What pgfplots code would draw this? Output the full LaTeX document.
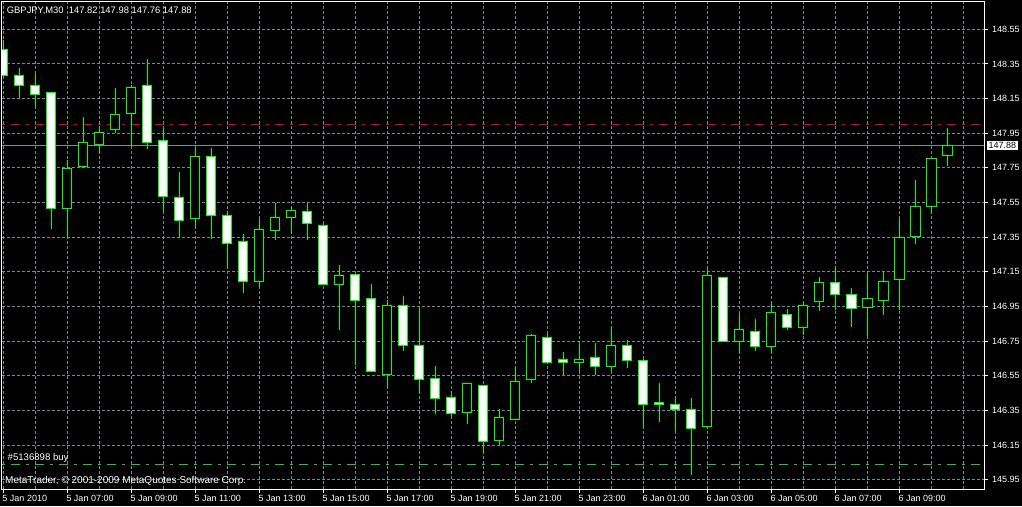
\documentclass[border=0pt]{standalone}
\usepackage{pgfplots}
\pgfplotsset{compat=1.18}
\usepackage{pgfplotstable}
\usepackage{fontspec}
\setmainfont{Liberation Sans}
\definecolor{candle}{RGB}{0,255,0}
\definecolor{gridc}{RGB}{119,136,153}
\definecolor{orderg}{RGB}{40,200,40}
\definecolor{slred}{RGB}{240,0,0}

% open high low close, 30-minute candles from 5 Jan 2010 05:00
\pgfplotstableread{
o h l c
148.435 148.490 148.280 148.285
148.285 148.327 148.155 148.227
148.227 148.292 148.103 148.175
148.186 148.190 147.396 147.517
147.517 147.796 147.344 147.748
147.757 148.042 147.748 147.898
147.886 147.994 147.834 147.956
147.969 148.211 147.950 148.060
148.065 148.230 147.873 148.215
148.227 148.379 147.858 147.898
147.910 147.979 147.503 147.586
147.581 147.725 147.353 147.448
147.459 147.867 147.405 147.817
147.817 147.867 147.338 147.477
147.477 147.503 147.171 147.315
147.327 147.367 147.027 147.096
147.096 147.455 147.065 147.392
147.388 147.546 147.334 147.465
147.465 147.526 147.376 147.506
147.500 147.546 147.334 147.430
147.419 147.434 147.075 147.079
147.079 147.188 146.815 147.130
147.136 147.140 146.613 146.986
146.998 147.079 146.570 146.574
146.559 146.988 146.478 146.957
146.957 147.011 146.695 146.727
146.727 146.943 146.450 146.530
146.536 146.607 146.328 146.421
146.426 146.463 146.305 146.330
146.340 146.507 146.270 146.507
146.496 146.496 146.103 146.169
146.178 146.357 146.150 146.311
146.300 146.603 146.300 146.519
146.530 146.792 146.507 146.780
146.769 146.799 146.617 146.628
146.642 146.690 146.555 146.628
146.628 146.732 146.580 146.647
146.657 146.740 146.555 146.605
146.603 146.834 146.580 146.727
146.727 146.757 146.597 146.640
146.640 146.650 146.257 146.386
146.398 146.507 146.286 146.386
146.386 146.421 146.234 146.357
146.357 146.421 145.977 146.248
146.259 147.171 146.242 147.130
147.119 147.120 146.750 146.750
146.750 146.905 146.684 146.819
146.807 146.877 146.695 146.718
146.718 146.975 146.684 146.917
146.905 146.934 146.815 146.830
146.830 146.975 146.786 146.957
146.978 147.121 146.926 147.090
147.090 147.182 146.929 147.021
147.021 147.056 146.830 146.940
146.946 147.142 146.776 146.998
146.986 147.148 146.900 147.096
147.107 147.459 146.929 147.350
147.355 147.680 147.309 147.529
147.529 147.810 147.483 147.806
147.820 147.980 147.760 147.880
}\candles

\begin{document}
\begin{tikzpicture}[font=\fontsize{9}{10}\selectfont]
\fill[black] (0,0) rectangle (1022pt,506pt);
\begin{axis}[
  at={(2pt,17pt)}, anchor=south west,
  scale only axis, width=982pt, height=487pt,
  xmin=-0.081, xmax=61.29, ymin=145.897, ymax=148.7075,
  clip mode=individual,
  axis background/.style={fill=black},
  axis line style={white, line width=1pt},
  xtick={0,4,...,56},
  xticklabels={5 Jan 2010, 5 Jan 07:00, 5 Jan 09:00, 5 Jan 11:00, 5 Jan 13:00, 5 Jan 15:00, 5 Jan 17:00, 5 Jan 19:00, 5 Jan 21:00, 5 Jan 23:00, 6 Jan 01:00, 6 Jan 03:00, 6 Jan 05:00, 6 Jan 07:00, 6 Jan 09:00},
  minor xtick={2,6,...,58,60},
  ytick={145.95,146.15,146.35,146.55,146.75,146.95,147.15,147.35,147.55,147.75,147.95,148.15,148.35,148.55},
  xtick pos=bottom, ytick pos=right, yticklabel pos=right,
  tick align=outside,
  major tick length=4pt, minor tick length=0pt,
  tick style={white, line width=1pt},
  grid=both,
  major grid style={gridc, dash pattern=on 3pt off 2pt, line width=1pt},
  minor grid style={gridc, dash pattern=on 3pt off 2pt, line width=1pt},
  yticklabel style={/pgf/number format/.cd, fixed, fixed zerofill, precision=2, assume math mode=true, /tikz/.cd, text=white, anchor=west, inner sep=0pt, xshift=4pt},
  xticklabel style={text=white, anchor=north west, inner sep=0pt, xshift=-1pt, yshift=-2pt},
  extra y ticks={147.88},
  extra y tick labels={147.88},
  extra y tick style={grid=major, major grid style={gridc, solid, line width=1pt}, major tick length=0pt, yticklabel style={fill=white, text=black, inner xsep=1.5pt, inner ysep=1pt, xshift=-1pt}},
]
\addplot[slred, line width=1pt, dash pattern=on 9pt off 6pt on 3pt off 6pt] coordinates {(-1,148.00) (62,148.00)};
\addplot[orderg, line width=1pt, dash pattern=on 9pt off 6pt on 3pt off 6pt] coordinates {(-1,146.04) (62,146.04)};
\pgfplotsinvokeforeach{0,...,59}{
  \pgfplotstablegetelem{#1}{o}\of\candles\let\cndO\pgfplotsretval
  \pgfplotstablegetelem{#1}{h}\of\candles\let\cndH\pgfplotsretval
  \pgfplotstablegetelem{#1}{l}\of\candles\let\cndL\pgfplotsretval
  \pgfplotstablegetelem{#1}{c}\of\candles\let\cndC\pgfplotsretval
  \pgfmathsetmacro\cndB{min(\cndO,\cndC)}
  \pgfmathsetmacro\cndT{max(\cndO,\cndC)}
  \pgfmathsetmacro\cndXa{#1-0.29}
  \pgfmathsetmacro\cndXb{#1+0.29}
  \ifdim\cndC pt>\cndO pt\def\cndF{black}\else\def\cndF{white}\fi
  \edef\cndTmp{%
    \noexpand\addplot[draw=candle, line width=1pt] coordinates {(#1,\cndL) (#1,\cndH)};
    \noexpand\addplot[draw=candle, fill=\cndF, line width=1pt] coordinates {(\cndXa,\cndB) (\cndXb,\cndB) (\cndXb,\cndT) (\cndXa,\cndT)} -- cycle;
  }%
  \cndTmp
}
\end{axis}
\node[anchor=base west, text=white, inner sep=0pt, font=\fontsize{9.4}{10}\selectfont] at (6.7pt,492pt) {GBPJPY,M30\ \ 147.82 147.98 147.76 147.88};
\node[anchor=base west, text=white, inner sep=0pt, font=\fontsize{9.6}{10}\selectfont] at (7.5pt,45.3pt) {\#5136898 buy};
\node[anchor=base west, text=white, inner sep=0pt, font=\fontsize{10}{11}\selectfont] at (5pt,22.7pt) {MetaTrader, © 2001-2009 MetaQuotes Software Corp.};
\pgfresetboundingbox
\useasboundingbox (0,0) rectangle (1022pt,506pt);
\end{tikzpicture}
\end{document}
